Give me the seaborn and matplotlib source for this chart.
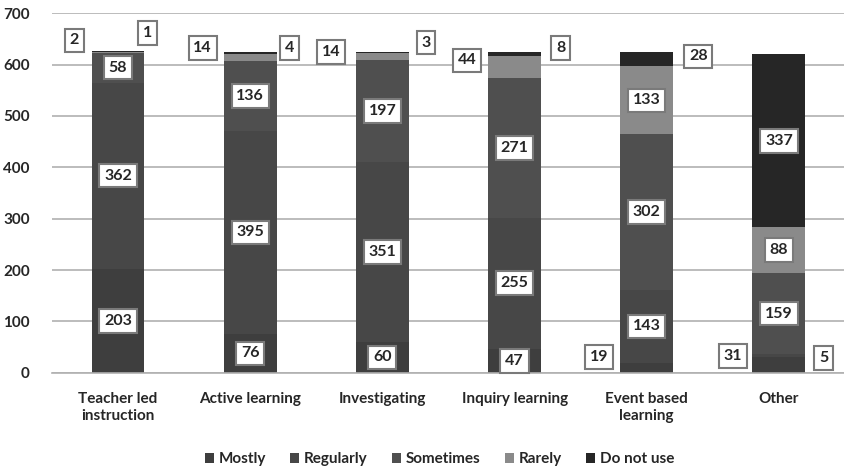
import numpy as np
import pandas as pd
import matplotlib
matplotlib.use("Agg")
import matplotlib.pyplot as plt
import seaborn as sns

sns.set_style("white")
plt.rcParams['font.family'] = ['Lato', 'DejaVu Sans']
plt.rcParams['font.weight'] = 'bold'

# data
categories = ["Teacher led\ninstruction", "Active learning", "Investigating",
              "Inquiry learning", "Event based\nlearning", "Other"]
levels = ["Mostly", "Regularly", "Sometimes", "Rarely", "Do not use"]

mostly = [203, 76, 60, 47, 19, 31]
regularly = [362, 395, 351, 255, 143, 5]
sometimes = [58, 136, 197, 271, 302, 159]
rarely = [2, 14, 14, 44, 133, 88]
do_not_use = [1, 4, 3, 8, 28, 337]

series = [mostly, regularly, sometimes, rarely, do_not_use]
colors = ["#3e3e3e", "#474747", "#4f4f4f", "#8a8a8a", "#262626"]

# small values drawn outside the bar: (category, level) -> (x offset, y)
outside = {
    (0, 3): (-0.33, 647), (0, 4): (0.22, 661),
    (1, 3): (-0.36, 632), (1, 4): (0.30, 632),
    (2, 3): (-0.39, 624), (2, 4): (0.33, 643),
    (3, 3): (-0.36, 608), (3, 4): (0.35, 632),
    (4, 0): (-0.36, 31), (4, 4): (0.39, 616),
    (5, 0): (-0.35, 33), (5, 1): (0.34, 29),
}

fig = plt.figure(figsize=(8.45, 4.72), dpi=100)
ax = fig.add_axes([0.0615, 0.21, 0.9385, 0.762])

box = dict(boxstyle="square,pad=0.3", fc="white", ec="#7a7a7a", lw=1.5)

bottom = np.zeros(len(categories))
for i, (name, vals) in enumerate(zip(levels, series)):
    sns.barplot(x=categories, y=vals, bottom=bottom, color=colors[i],
                width=0.40, label=name, saturation=1, ax=ax, zorder=2,
                edgecolor="none", linewidth=0)
    for j, v in enumerate(vals):
        if (j, i) in outside:
            dx, y = outside[(j, i)]
            ax.text(j + dx, y, str(v), ha="center", va="center",
                    fontsize=11.5, bbox=box, zorder=4)
        else:
            ax.text(j, bottom[j] + v / 2, str(v), ha="center", va="center",
                    fontsize=11.5, bbox=box, zorder=4)
    bottom += np.array(vals)

ax.set_ylim(0, 700)
ax.set_xlim(-0.5, 5.5)
ax.set_yticks(range(0, 701, 100))
ax.yaxis.grid(True, color="#b0b0b0", lw=1.2, zorder=0)
ax.set_axisbelow(True)
for s in ["top", "right", "left"]:
    ax.spines[s].set_visible(False)
ax.spines["bottom"].set_color("#b0b0b0")
ax.spines["bottom"].set_linewidth(1.2)
ax.tick_params(axis="both", length=0, labelsize=11)
ax.tick_params(axis="x", pad=14)
ax.tick_params(axis="y", pad=16)
for lab in ax.get_xticklabels() + ax.get_yticklabels():
    lab.set_fontweight("bold")
ax.set_xlabel("")
ax.set_ylabel("")

ax.legend(loc="center", bbox_to_anchor=(0.52, 0.027),
          bbox_transform=fig.transFigure, ncol=5, frameon=False,
          fontsize=11, handlelength=0.6, handleheight=0.6, handletextpad=0.3,
          columnspacing=1.6)

fig.savefig("out.png", dpi=100)
